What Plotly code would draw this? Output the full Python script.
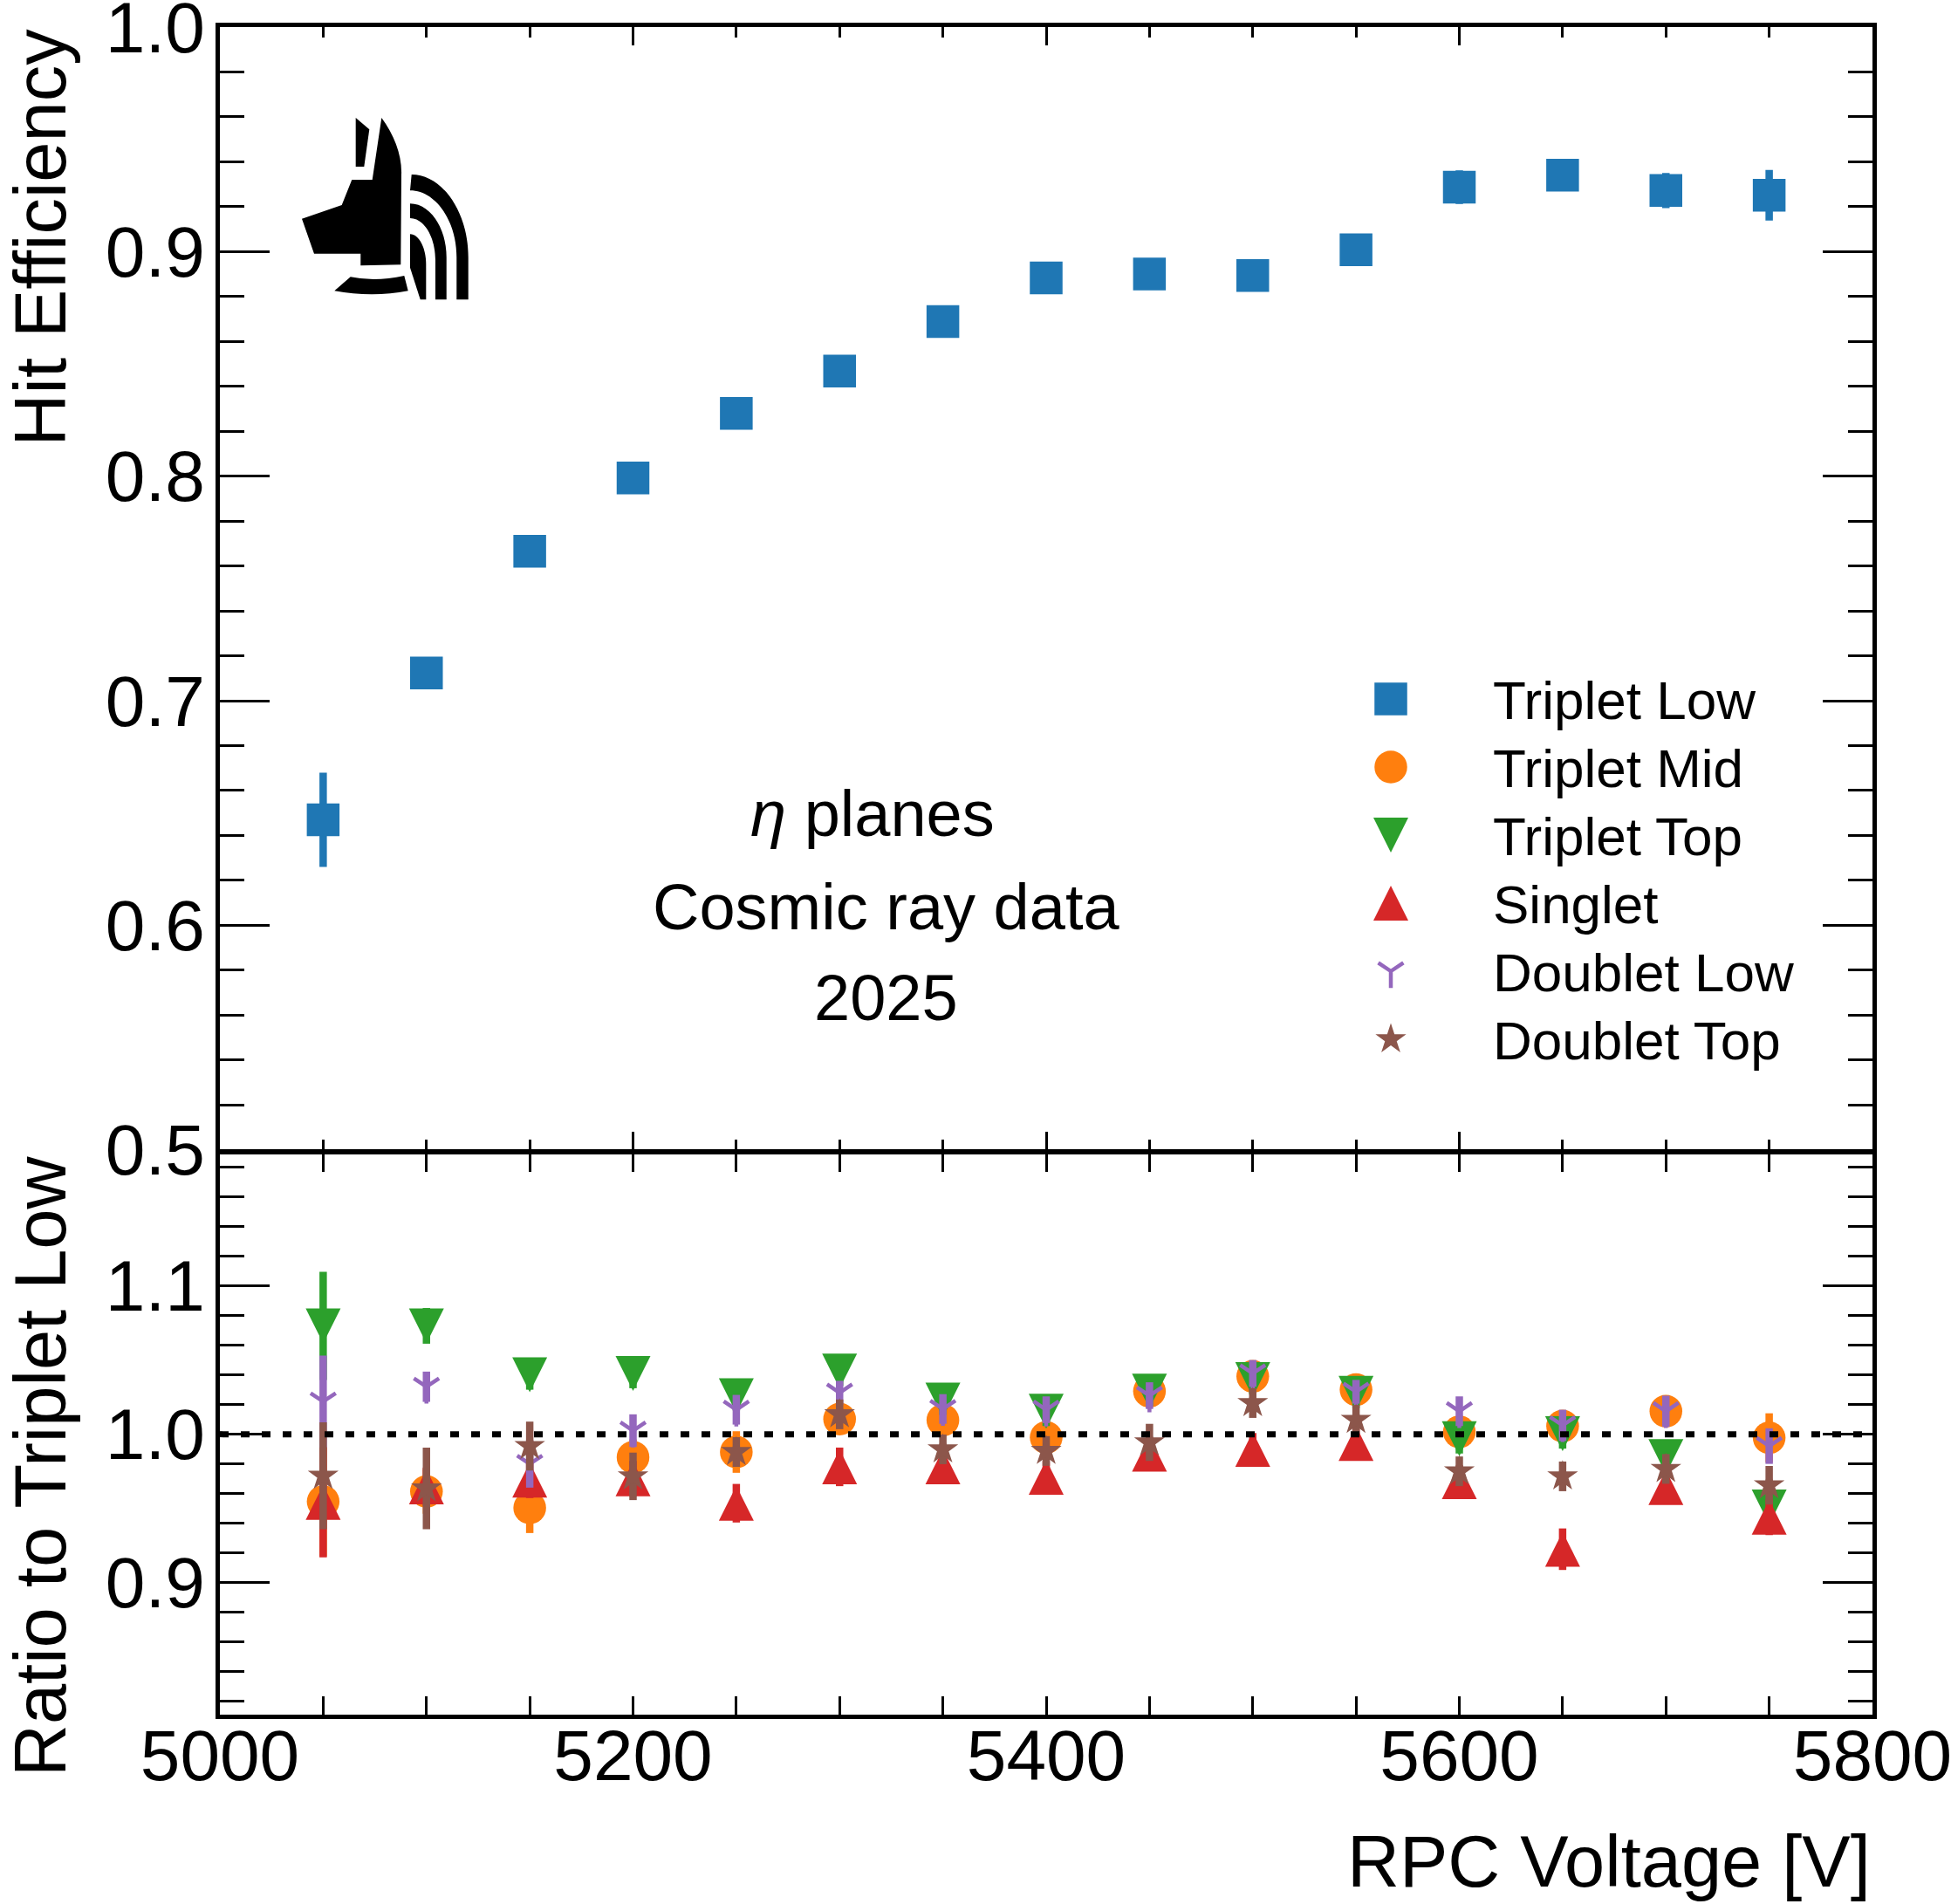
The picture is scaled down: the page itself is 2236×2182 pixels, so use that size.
import plotly.graph_objects as go

# ---------------- data ----------------
voltage = [5050, 5100, 5150, 5200, 5250, 5300, 5350, 5400, 5450, 5500, 5550, 5600, 5650, 5700, 5750]

eff_triplet_low = [0.647, 0.7124, 0.7666, 0.7992, 0.828, 0.8468, 0.8689, 0.8883, 0.890, 0.8894,
                   0.9008, 0.9287, 0.934, 0.9272, 0.9251]
err_triplet_low = [0.021, 0.006, 0.006, 0.006, 0.006, 0.006, 0.006, 0.006, 0.006, 0.006,
                   0.006, 0.0075, 0.007, 0.0078, 0.0113]

ratio_triplet_mid = [0.9546, 0.9614, 0.9504, 0.9845, 0.988, 1.0102, 1.0095, 0.9978, 1.029, 1.039,
                     1.030, 1.0016, 1.0055, 1.0155, 0.9976]
err_triplet_mid = [0.037, 0.015, 0.017, 0.012, 0.014, 0.010, 0.010, 0.010, 0.010, 0.010,
                   0.010, 0.010, 0.010, 0.010, 0.0165]

ratio_triplet_top = [1.073, 1.073, 1.040, 1.041, 1.026, 1.0425, 1.023, 1.0155, 1.029, 1.0368,
                     1.0276, 0.997, 1.0003, 0.985, 0.951]
err_triplet_top = [0.0365, 0.012, 0.010, 0.010, 0.010, 0.010, 0.010, 0.010, 0.010, 0.010,
                   0.010, 0.010, 0.010, 0.010, 0.010]

ratio_singlet = [0.954, 0.9645, 0.969, 0.970, 0.9535, 0.978, 0.978, 0.971, 0.9866, 0.9898,
                 0.9937, 0.968, 0.9225, 0.964, 0.944]
err_singlet = [0.037, 0.013, 0.012, 0.012, 0.013, 0.013, 0.011, 0.011, 0.011, 0.011,
               0.011, 0.011, 0.014, 0.011, 0.012]

ratio_doublet_low = [1.022, 1.032, 0.980, 1.0024, 1.0165, 1.028, 1.017, 1.0165, 1.026, 1.041,
                     1.0286, 1.0155, 1.006, 1.0155, 0.992]
err_doublet_low = [0.031, 0.0102, 0.016, 0.011, 0.010, 0.008, 0.010, 0.009, 0.009, 0.009,
                   0.008, 0.010, 0.0105, 0.0105, 0.012]

ratio_doublet_top = [0.972, 0.9635, 0.992, 0.9716, 0.988, 1.0134, 0.9898, 0.9887, 0.9945, 1.021,
                     1.0097, 0.975, 0.9716, 0.9766, 0.9656]
err_doublet_top = [0.036, 0.0275, 0.0165, 0.016, 0.010, 0.010, 0.010, 0.010, 0.0125, 0.010,
                   0.010, 0.010, 0.010, 0.010, 0.013]

series_names = ["Triplet Low", "Triplet Mid", "Triplet Top", "Singlet", "Doublet Low", "Doublet Top"]
x_range = [5000, 5800]
eff_range = [0.5, 1.0]
ratio_range = [0.811, 1.189]
annotation_lines = ["<i>η</i> planes", "Cosmic ray data", "2025"]

# ---------------- style / layout constants ----------------
W, H = 2236, 2182
L, R, T, B = 252, 2146, 31, 1965
SPLIT = 1320
LW = 4.5
FONT = "Liberation Sans"
C_BLUE, C_ORANGE, C_GREEN = "#1f77b4", "#ff7f0e", "#2ca02c"
C_RED, C_PURPLE, C_BROWN = "#d62728", "#9467bd", "#8c564b"
EB = 8.5          # error bar thickness
SQ, CI, TRI, STAR, YS = 37.5, 37.5, 40, 26.5, 24
EPS = 1e-9


def pxx(x):
    return (x - L) / (R - L)


def pyy(y):
    return (B - y) / (B - T)


top_dom = [pyy(SPLIT - LW / 2), 1.0]
bot_dom = [0.0, pyy(SPLIT + LW / 2)]
bot_px_per_unit = (B - (SPLIT + LW / 2)) / (ratio_range[1] - ratio_range[0])
d_tri = (TRI / 2) / bot_px_per_unit   # centre triangle bbox on its value

fig = go.Figure()


def err(vals, color):
    return dict(type="data", array=vals, visible=True, color=color, thickness=EB, width=0)


# top panel
fig.add_trace(go.Scatter(x=voltage, y=eff_triplet_low, mode="markers", xaxis="x", yaxis="y",
                         marker=dict(symbol="square", size=SQ, color=C_BLUE, line=dict(width=0)),
                         error_y=err(err_triplet_low, C_BLUE), name=series_names[0]))

# ratio panel (draw order as in reference)
fig.add_trace(go.Scatter(x=voltage, y=ratio_triplet_mid, mode="markers", xaxis="x2", yaxis="y2",
                         marker=dict(symbol="circle", size=CI, color=C_ORANGE, line=dict(width=0)),
                         error_y=err(err_triplet_mid, C_ORANGE), name=series_names[1]))
fig.add_trace(go.Scatter(x=voltage, y=ratio_triplet_top, mode="markers", xaxis="x2", yaxis="y2",
                         marker=dict(size=1, color="rgba(0,0,0,0)"),
                         error_y=err(err_triplet_top, C_GREEN), name=series_names[2]))
fig.add_trace(go.Scatter(x=voltage, y=ratio_triplet_top, mode="markers", xaxis="x2", yaxis="y3",
                         marker=dict(symbol="arrow-down", size=TRI, color=C_GREEN, line=dict(width=0)),
                         name=series_names[2]))
fig.add_trace(go.Scatter(x=voltage, y=ratio_singlet, mode="markers", xaxis="x2", yaxis="y4",
                         marker=dict(size=1, color="rgba(0,0,0,0)"),
                         error_y=err(err_singlet, C_RED), name=series_names[3]))
fig.add_trace(go.Scatter(x=voltage, y=ratio_singlet, mode="markers", xaxis="x2", yaxis="y5",
                         marker=dict(symbol="arrow-up", size=TRI, color=C_RED, line=dict(width=0)),
                         name=series_names[3]))
fig.add_trace(go.Scatter(x=voltage, y=ratio_doublet_low, mode="markers", xaxis="x2", yaxis="y6",
                         marker=dict(symbol="y-down", size=YS, color=C_PURPLE,
                                     line=dict(width=4.5, color=C_PURPLE)),
                         error_y=err(err_doublet_low, C_PURPLE), name=series_names[4]))
fig.add_trace(go.Scatter(x=voltage, y=ratio_doublet_top, mode="markers", xaxis="x2", yaxis="y6",
                         marker=dict(symbol="star", size=STAR, color=C_BROWN, line=dict(width=0)),
                         error_y=err(err_doublet_top, C_BROWN), name=series_names[5]))

# ---------------- legend (drawn by hand on a pixel axis) ----------------
LEG_X, LEG_TEXT_X = 1594, 1709
LEG_Y0, LEG_DY = 801, 78
leg_rows = [LEG_Y0 + i * LEG_DY for i in range(6)]
leg_styles = [
    dict(symbol="square", size=SQ, color=C_BLUE, line=dict(width=0)),
    dict(symbol="circle", size=CI, color=C_ORANGE, line=dict(width=0)),
    dict(symbol="arrow-down", size=TRI, color=C_GREEN, line=dict(width=0)),
    dict(symbol="arrow-up", size=TRI, color=C_RED, line=dict(width=0)),
    dict(symbol="y-down", size=YS, color=C_PURPLE, line=dict(width=4.5, color=C_PURPLE)),
    dict(symbol="star", size=STAR, color=C_BROWN, line=dict(width=0)),
]
leg_offsets = [0, 0, TRI / 2, -TRI / 2, 0, 0]
for row, sty, off in zip(leg_rows, leg_styles, leg_offsets):
    fig.add_trace(go.Scatter(x=[LEG_X], y=[row + off], mode="markers", xaxis="x3", yaxis="y7",
                             marker=sty, hoverinfo="skip"))

annotations = []
for row, name in zip(leg_rows, series_names):
    annotations.append(dict(x=pxx(LEG_TEXT_X), y=pyy(row + 1), xref="paper", yref="paper",
                            text=name, showarrow=False, xanchor="left", yanchor="middle",
                            font=dict(family=FONT, size=62, color="black")))

# in-panel text
for (cx, cy), line in zip([(1000, 933), (1015, 1039), (1015, 1143)], annotation_lines):
    annotations.append(dict(x=pxx(cx), y=pyy(cy), xref="paper", yref="paper", text=line,
                            showarrow=False, xanchor="center", yanchor="middle",
                            font=dict(family=FONT, size=74, color="black")))

# axis titles
annotations.append(dict(x=pxx(46), y=pyy(T), xref="paper", yref="paper", text="Hit Efficiency",
                        textangle=-90, showarrow=False, xanchor="center", yanchor="top",
                        font=dict(family=FONT, size=83, color="black")))
annotations.append(dict(x=pxx(46), y=pyy(SPLIT + 2), xref="paper", yref="paper",
                        text="Ratio to Triplet Low", textangle=-90, showarrow=False,
                        xanchor="center", yanchor="top",
                        font=dict(family=FONT, size=83, color="black")))
annotations.append(dict(x=1.0, y=pyy(2133), xref="paper", yref="paper", text="RPC Voltage [V]",
                        showarrow=False, xanchor="right", yanchor="middle",
                        font=dict(family=FONT, size=83, color="black")))

# ---------------- logo (decoration, pixel geometry) ----------------
logo_parts = [
    [("M", (407.7, 135)), ("L", (423.3, 148.3)), ("L", (417.3, 191)), ("L", (407.7, 191)), ("Z",)],
    [("M", (437.3, 135)), ("C", (452, 155), (461, 178), (460, 201)), ("L", (459.3, 303.3)),
     ("L", (413.3, 304.3)), ("L", (413.3, 290.7)), ("L", (360, 290.7)), ("L", (346, 250.7)),
     ("L", (391.7, 235)), ("L", (403.3, 206)), ("L", (426.7, 206)), ("Z",)],
    [("M", (383.3, 333.3)), ("L", (401.7, 317.3)), ("Q", (430, 323.3), (463.3, 316)),
     ("L", (467.7, 333.3)), ("Q", (426.7, 341.3), (383.3, 333.3)), ("Z",)],
    [("M", (471.7, 200)), ("C", (507, 200), (536.7, 243), (536.7, 295)), ("L", (536.7, 343.3)),
     ("L", (523.3, 343.3)), ("L", (523.3, 295)), ("C", (523.3, 253), (499.3, 218.3), (470, 218.3)),
     ("Z",)],
    [("M", (470, 233.3)), ("C", (492.9, 233.3), (511.7, 261.1), (511.7, 295)), ("L", (511.7, 343.3)),
     ("L", (499, 343.3)), ("L", (499, 298)), ("C", (499, 271.6), (486, 250), (470, 250)), ("Z",)],
    [("M", (470, 268.3)), ("C", (480, 268.3), (488.3, 284), (488.3, 303)), ("L", (488.3, 343.3)),
     ("L", (481.7, 343.3)), ("L", (470, 306.7)), ("Z",)],
]


def to_path(cmds):
    out = []
    for c in cmds:
        if c[0] == "Z":
            out.append("Z")
        else:
            out.append(c[0] + " ".join(f"{pxx(x):.5f},{pyy(y):.5f}" for x, y in c[1:]))
    return " ".join(out)


shapes = [dict(type="path", xref="paper", yref="paper", path=to_path(p), fillcolor="black",
               line=dict(width=0), layer="above") for p in logo_parts]

# reference line at ratio 1
shapes.append(dict(type="line", xref="x2 domain", yref="y2", x0=0, x1=1, y0=1.0, y1=1.0,
                   line=dict(color="black", width=7, dash="10px,14px"), layer="above"))

# ---------------- axes ----------------
tickfont = dict(family=FONT, size=82, color="black")
xcommon = dict(range=[x_range[0], x_range[1] + EPS], showline=True, linewidth=LW, linecolor="black",
               mirror="allticks", ticks="inside", ticklen=21, tickwidth=3, tickcolor="black",
               tick0=5000, dtick=200, showgrid=False, zeroline=False, tickfont=tickfont,
               ticklabeloverflow="allow",
               minor=dict(ticks="inside", ticklen=12.5, tickwidth=3, tickcolor="black", dtick=50,
                          tick0=5000, showgrid=False))
ycommon = dict(showline=True, linewidth=LW, linecolor="black", mirror="allticks",
               ticks="inside", ticklen=57, tickwidth=3, tickcolor="black", tick0=0, dtick=0.1,
               tickformat=".1f", showgrid=False, zeroline=False, tickfont=tickfont,
               ticklabelstandoff=-4, ticklabeloverflow="allow",
               minor=dict(ticks="inside", ticklen=28, tickwidth=3, tickcolor="black", dtick=0.02,
                          tick0=0, showgrid=False))

hidden_y = dict(overlaying="y2", anchor="x2", visible=False, showgrid=False, zeroline=False)

fig.update_layout(
    width=W, height=H,
    margin=dict(l=L, r=W - R, t=T, b=H - B, pad=0, autoexpand=False),
    paper_bgcolor="white", plot_bgcolor="rgba(0,0,0,0)",
    showlegend=False,
    font=dict(family=FONT, color="black"),
    xaxis=dict(**xcommon, domain=[0, 1], anchor="y", showticklabels=False, matches="x2"),
    yaxis=dict(**ycommon, domain=top_dom, anchor="x", range=[eff_range[0], eff_range[1] + EPS]),
    xaxis2=dict(**xcommon, domain=[0, 1], anchor="y2", showticklabels=True, ticklabelstandoff=-28),
    yaxis2=dict(**ycommon, domain=bot_dom, anchor="x2", range=ratio_range),
    yaxis3=dict(**hidden_y, range=[ratio_range[0] + d_tri, ratio_range[1] + d_tri]),
    yaxis4=dict(**hidden_y, range=ratio_range),
    yaxis5=dict(**hidden_y, range=[ratio_range[0] - d_tri, ratio_range[1] - d_tri]),
    yaxis6=dict(**hidden_y, range=ratio_range),
    xaxis3=dict(domain=[0, 1], anchor="y7", range=[L, R], visible=False, showgrid=False),
    yaxis7=dict(domain=[0, 1], anchor="x3", range=[B, T], visible=False, showgrid=False),
    annotations=annotations,
    shapes=shapes,
)

fig.write_html("out.html")
